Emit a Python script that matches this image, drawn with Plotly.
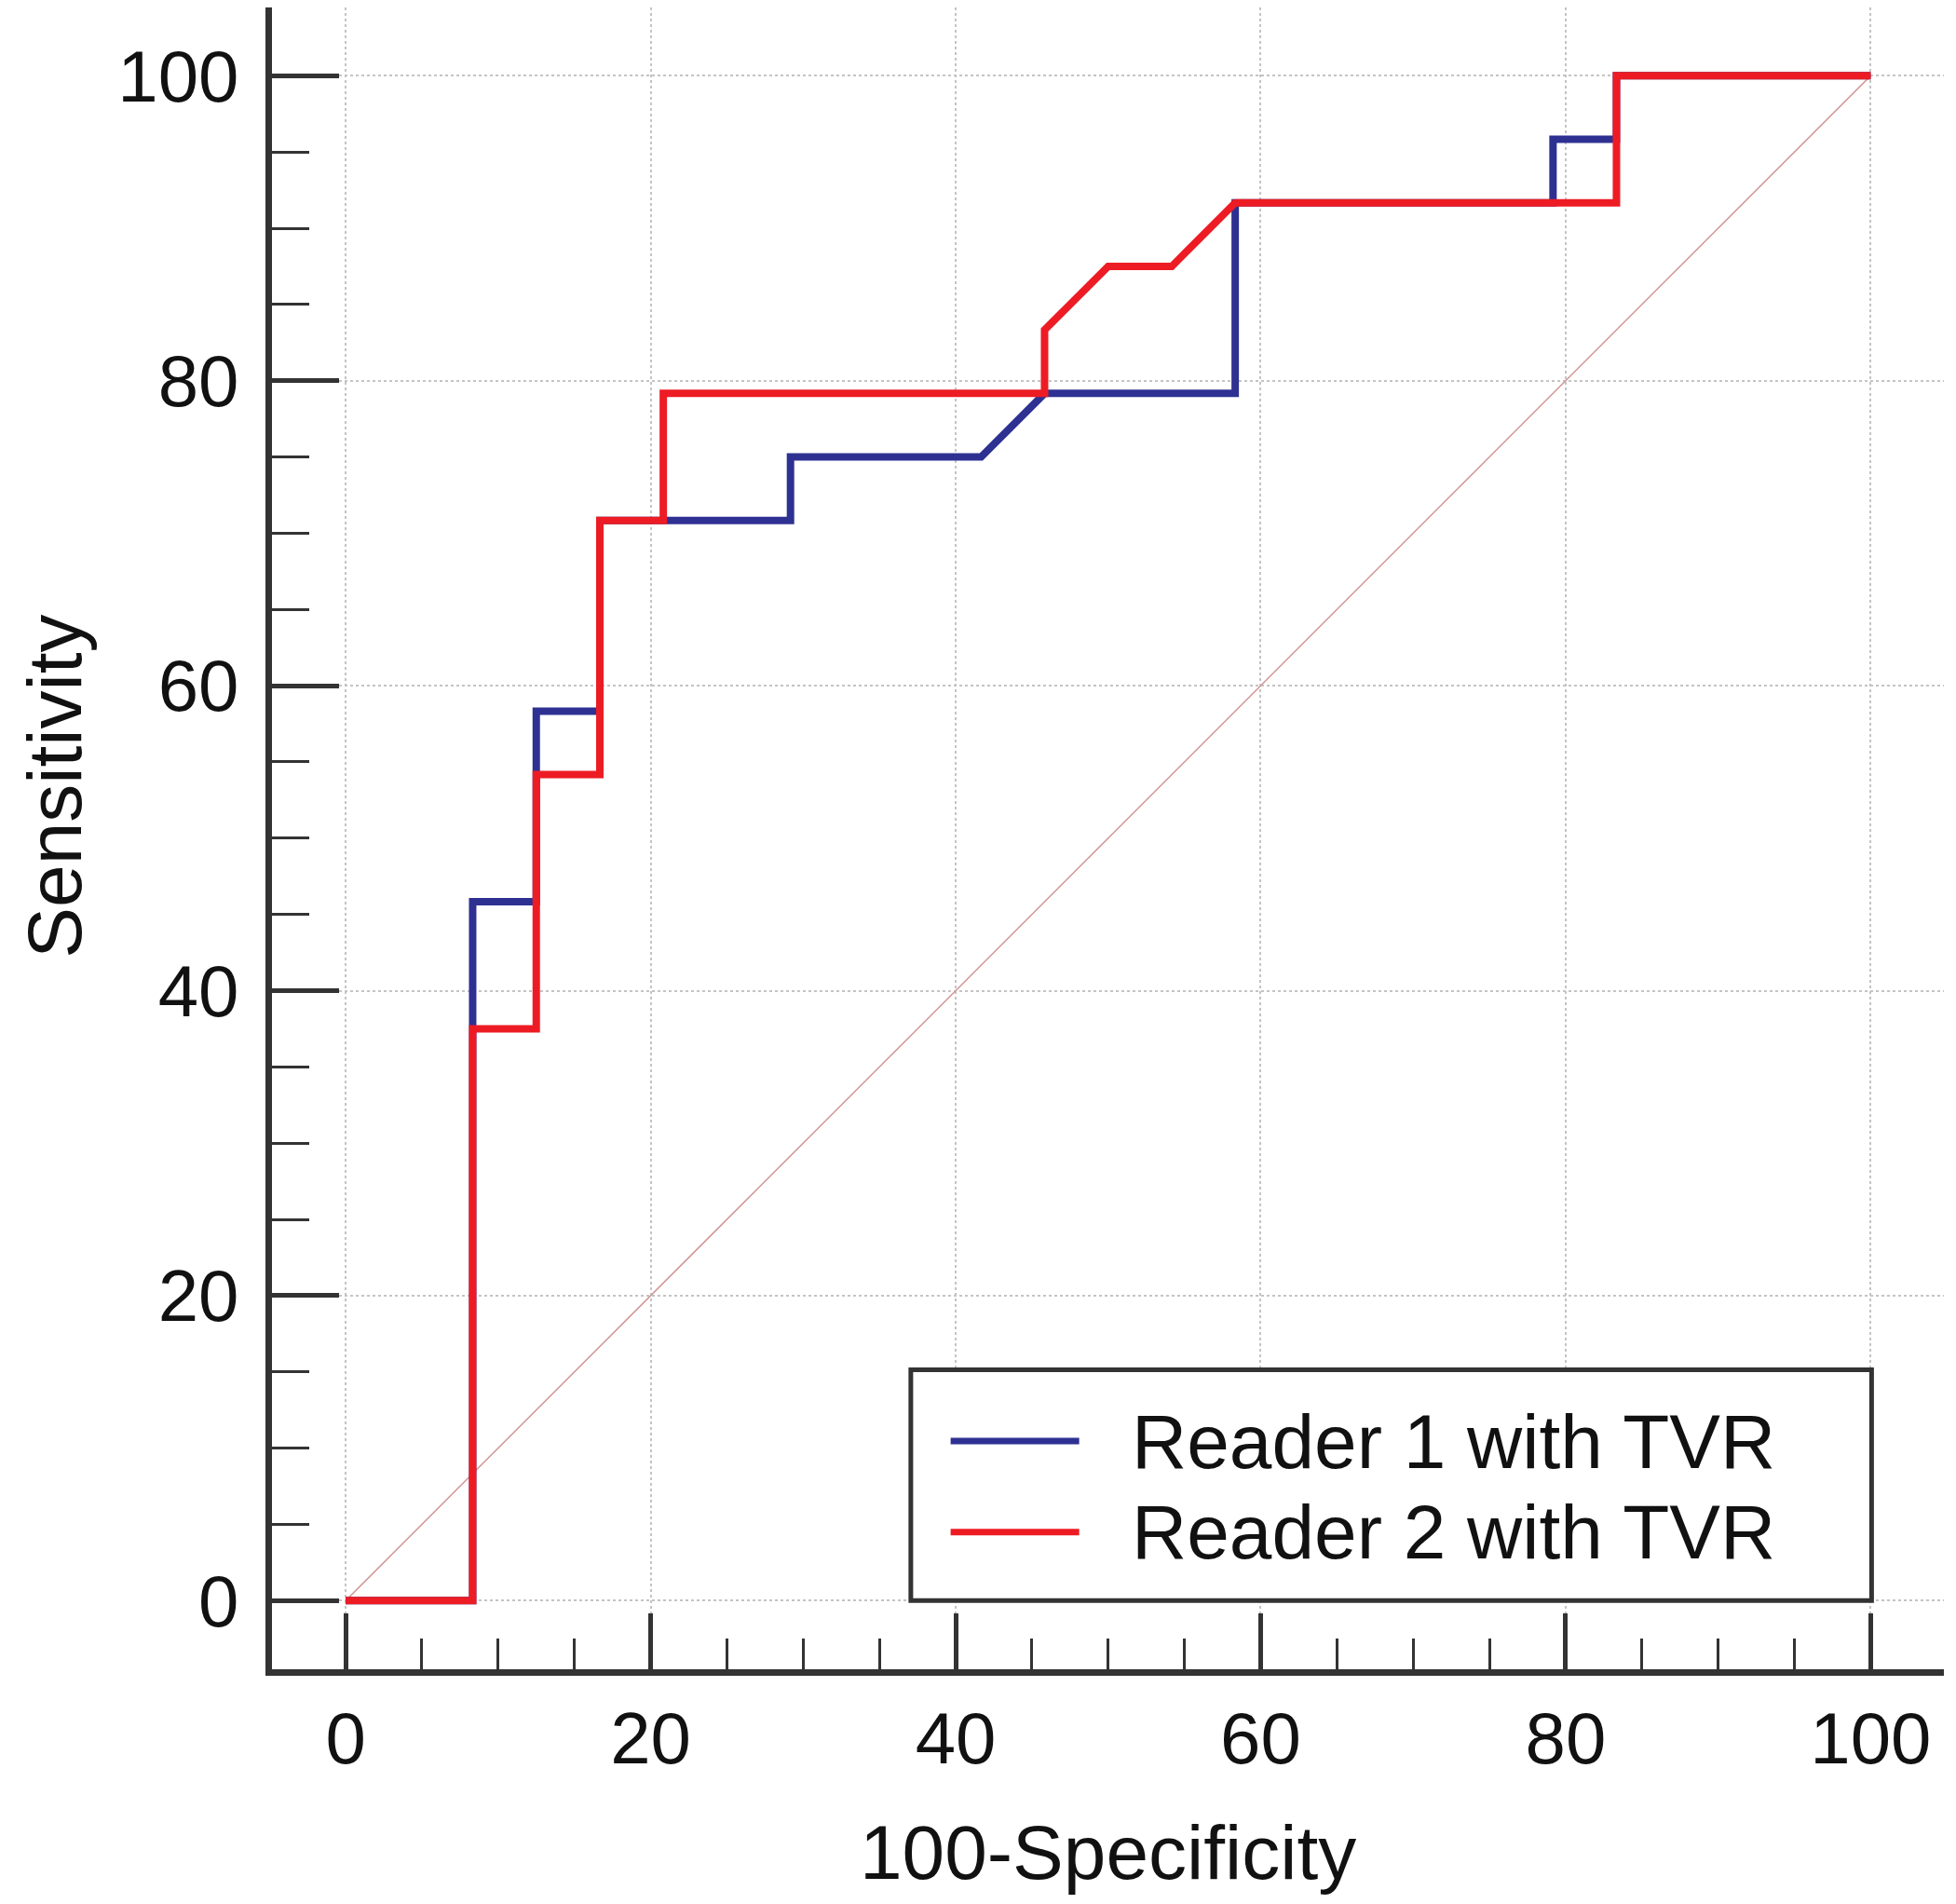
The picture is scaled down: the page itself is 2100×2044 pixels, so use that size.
import plotly.graph_objects as go

# ROC curve data (100-Specificity, Sensitivity)
reader1_x = [0, 8.33, 8.33, 12.5, 12.5, 16.67, 16.67, 29.17, 29.17, 41.67, 45.83, 58.33, 58.33, 79.17, 79.17, 83.33, 83.33, 100]
reader1_y = [0, 0, 45.83, 45.83, 58.33, 58.33, 70.83, 70.83, 75, 75, 79.17, 79.17, 91.67, 91.67, 95.83, 95.83, 100, 100]

reader2_x = [0, 8.33, 8.33, 12.5, 12.5, 16.67, 16.67, 20.83, 20.83, 45.83, 45.83, 50, 54.17, 58.33, 83.33, 83.33, 100]
reader2_y = [0, 0, 37.5, 37.5, 54.17, 54.17, 70.83, 70.83, 79.17, 79.17, 83.33, 87.5, 87.5, 91.67, 91.67, 100, 100]

diag_x = [0, 100]
diag_y = [0, 100]

tick_vals = [0, 20, 40, 60, 80, 100]
tick_text = ["0", "20", "40", "60", "80", "100"]

names = ["Reader 1 with TVR", "Reader 2 with TVR"]
colors = ["#2E3192", "#ED1C24"]
FONT = "Arial, Liberation Sans, sans-serif"

fig = go.Figure()
fig.add_trace(go.Scatter(x=diag_x, y=diag_y, mode="lines",
                         line=dict(color="#d49c9c", width=1.6), showlegend=False, hoverinfo="skip"))
fig.add_trace(go.Scatter(x=reader1_x, y=reader1_y, mode="lines", name=names[0],
                         line=dict(color=colors[0], width=8), showlegend=False))
fig.add_trace(go.Scatter(x=reader2_x, y=reader2_y, mode="lines", name=names[1],
                         line=dict(color=colors[1], width=8), showlegend=False))

axis_common = dict(
    showline=True, linecolor="#333333", linewidth=7, mirror=False,
    ticks="inside", tickcolor="#333333", tickwidth=5,
    tickvals=tick_vals, ticktext=tick_text,
    showgrid=True, gridcolor="#c4c4c4", gridwidth=2, griddash="dot",
    zeroline=False,
    tickfont=dict(family=FONT, size=78, color="#111111"),
)

fig.update_xaxes(range=[-4.83, 104.8], ticklen=60,
                 minor=dict(dtick=5, ticks="inside", ticklen=33, tickwidth=3, tickcolor="#333333", showgrid=False),
                 ticklabelstandoff=0, **axis_common)
fig.update_yaxes(range=[-4.5, 104.48], ticklen=72,
                 minor=dict(dtick=5, ticks="inside", ticklen=40, tickwidth=3, tickcolor="#333333", showgrid=False),
                 ticklabelstandoff=13, **axis_common)

fig.add_annotation(text="100-Specificity", xref="paper", yref="paper", x=0.5, y=-0.1104,
                   xanchor="center", yanchor="middle", showarrow=False,
                   font=dict(family=FONT, size=82, color="#111111"))
fig.add_annotation(text="Sensitivity", xref="paper", yref="paper", x=-0.1300, y=0.5314,
                   xanchor="center", yanchor="middle", showarrow=False, textangle=-90,
                   font=dict(family=FONT, size=82, color="#111111"))

# Legend (box, line samples and labels) placed in data coordinates
legend_box = dict(x0=37.06, x1=100.06, y0=0, y1=15.14)
legend_line_x = [39.67, 48.1]
legend_rows_y = [10.46, 4.5]
legend_text_x = 51.4

fig.add_shape(type="rect", xref="x", yref="y", layer="above",
              x0=legend_box["x0"], x1=legend_box["x1"], y0=legend_box["y0"], y1=legend_box["y1"],
              fillcolor="white", line=dict(color="#333333", width=5))
for name, col, ry in zip(names, colors, legend_rows_y):
    fig.add_shape(type="line", xref="x", yref="y", layer="above",
                  x0=legend_line_x[0], x1=legend_line_x[1], y0=ry, y1=ry,
                  line=dict(color=col, width=7))
    fig.add_annotation(text=name, xref="x", yref="y", x=legend_text_x, y=ry,
                       xanchor="left", yanchor="middle", showarrow=False,
                       font=dict(family=FONT, size=82, color="#111111"))

fig.update_layout(
    width=2092, height=2036,
    margin=dict(l=284, r=13, t=0, b=252),
    paper_bgcolor="white", plot_bgcolor="white",
    showlegend=False,
)

fig.write_html("out.html")
